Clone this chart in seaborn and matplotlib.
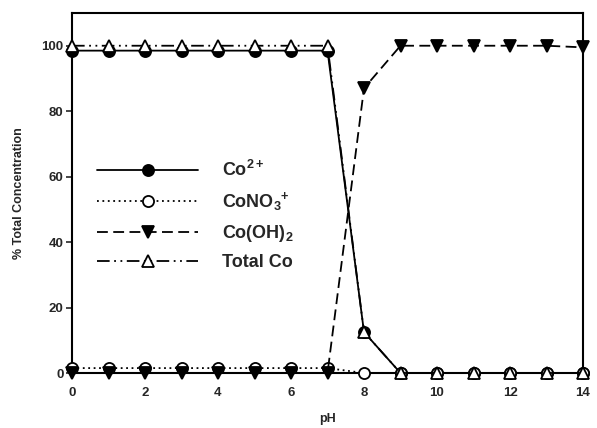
import numpy as np
import pandas as pd
import matplotlib
matplotlib.use("Agg")
import matplotlib.pyplot as plt
import seaborn as sns

ph = [0, 1, 2, 3, 4, 5, 6, 7, 8, 9, 10, 11, 12, 13, 14]
co2 = [98.5, 98.5, 98.5, 98.5, 98.5, 98.5, 98.5, 98.5, 12.5, 0, 0, 0, 0, 0, 0]
cono3 = [1.5, 1.5, 1.5, 1.5, 1.5, 1.5, 1.5, 1.5, 0, 0, 0, 0, 0, 0, 0]
cooh2 = [0, 0, 0, 0, 0, 0, 0, 0, 87, 100, 100, 100, 100, 100, 99.5]
total = [100, 100, 100, 100, 100, 100, 100, 100, 12.5, 0, 0, 0, 0, 0, 0]
labels = ["Co$^{2+}$", "CoNO$_3$$^{+}$", "Co(OH)$_2$", "Total Co"]
xticks = [0, 2, 4, 6, 8, 10, 12, 14]
yticks = [0, 20, 40, 60, 80, 100]

sns.set_style("white")
plt.rcParams["font.family"] = ["Liberation Sans", "DejaVu Sans"]
plt.rcParams["mathtext.fontset"] = "custom"
plt.rcParams["mathtext.rm"] = "Liberation Sans:bold"
plt.rcParams["mathtext.bf"] = "Liberation Sans:bold"
plt.rcParams["mathtext.it"] = "Liberation Sans:bold"
plt.rcParams["mathtext.default"] = "bf"

fig = plt.figure(figsize=(5.97, 4.28), dpi=100)
ax = fig.add_axes([72/597, 1-373/428, 511/597, 360/428])

series = [co2, cono3, cooh2, total]
styles = [
    dict(linestyle="-", marker="o", mfc="black", mec="black"),
    dict(linestyle=(0, (1, 2)), marker="o", mfc="white", mec="black"),
    dict(linestyle=(0, (6, 3)), marker="v", mfc="black", mec="black"),
    dict(linestyle=(0, (7, 2.5, 1, 2.5, 1, 2.5)), marker="^", mfc="white", mec="black"),
]
order = [1, 3, 0, 2]
handles = [None]*4
for i in order:
    st = styles[i]
    sns.lineplot(x=ph, y=series[i], ax=ax, color="black", linewidth=1.3,
                 linestyle=st["linestyle"], marker=st["marker"], markersize=8,
                 markerfacecolor=st["mfc"], markeredgecolor=st["mec"], markeredgewidth=1.3,
                 clip_on=False, zorder=3 + i)
    handles[i] = ax.lines[-1]

ax.set_xlim(0, 14)
ax.set_ylim(0, 110)
ax.set_xticks(xticks)
ax.set_yticks(yticks)
ax.set_xticklabels([str(t) for t in xticks], fontsize=9.5, fontweight="bold")
ax.set_yticklabels([str(t) for t in yticks], fontsize=9.5, fontweight="bold")
ax.tick_params(axis="y", direction="out", length=4, width=1.2, left=True, pad=2)
ax.tick_params(axis="x", length=0, pad=10)
for s in ax.spines.values():
    s.set_color("black")
    s.set_linewidth(1.5)
ax.set_xlabel("pH", fontsize=9, fontweight="bold", labelpad=10)
ax.set_ylabel("% Total Concentration", fontsize=9, fontweight="bold", labelpad=12)

leg = ax.legend(handles, labels, loc="upper left", bbox_to_anchor=(25/511, 1-147/360),
                frameon=False, fontsize=13, handlelength=5.6, handletextpad=1.3,
                labelspacing=0.55, borderpad=0, borderaxespad=0)
for t in leg.get_texts():
    t.set_fontweight("bold")

fig.savefig("out.png", dpi=100)
